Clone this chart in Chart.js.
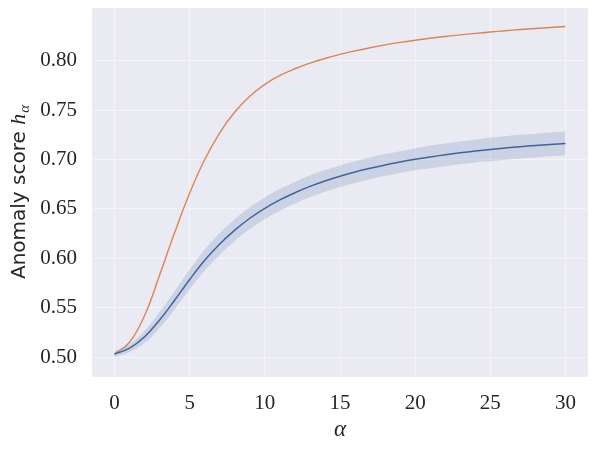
<!DOCTYPE html>
<html>
<head>
<meta charset="utf-8">
<script src="https://cdn.jsdelivr.net/npm/chart.js@4"></script>
<style>
  html, body { margin: 0; padding: 0; background: #fff; }
</style>
</head>
<body>
<canvas id="chart" width="596" height="450"></canvas>
<script>
// Data
const alphas = [0, 1, 2, 3, 4, 5, 6, 7, 8, 9, 10, 11, 12, 13, 14, 15, 16, 17, 18, 19, 20, 21, 22, 23, 24, 25, 26, 27, 28, 29, 30];
const orangeScores = [0.5030, 0.5150, 0.5420, 0.5830, 0.6260, 0.6660, 0.7000, 0.7270, 0.7480, 0.7640, 0.7760,
                      0.7850, 0.7918, 0.7975, 0.8022, 0.8063, 0.8099, 0.8131, 0.8160, 0.8185, 0.8207,
                      0.8227, 0.8245, 0.8261, 0.8276, 0.8290, 0.8303, 0.8315, 0.8326, 0.8336, 0.8345];
const blueScores = [0.5030, 0.5090, 0.5205, 0.5375, 0.5575, 0.5785, 0.5980, 0.6145, 0.6285, 0.6405, 0.6505,
                    0.6590, 0.6663, 0.6727, 0.6782, 0.6830, 0.6872, 0.6910, 0.6944, 0.6974, 0.7001,
                    0.7025, 0.7047, 0.7067, 0.7085, 0.7101, 0.7116, 0.7129, 0.7141, 0.7152, 0.7162];
const blueUpper = [0.5060, 0.5130, 0.5265, 0.5455, 0.5665, 0.5885, 0.6085, 0.6255, 0.6395, 0.6515, 0.6615,
                   0.6700, 0.6773, 0.6837, 0.6892, 0.6940, 0.6982, 0.7020, 0.7054, 0.7084, 0.7111,
                   0.7140, 0.7162, 0.7182, 0.7200, 0.7221, 0.7236, 0.7249, 0.7261, 0.7272, 0.7282];
const blueLower = [0.5000, 0.5050, 0.5145, 0.5295, 0.5485, 0.5685, 0.5875, 0.6035, 0.6175, 0.6295, 0.6395,
                   0.6480, 0.6553, 0.6617, 0.6672, 0.6720, 0.6762, 0.6800, 0.6834, 0.6864, 0.6891,
                   0.6910, 0.6932, 0.6952, 0.6970, 0.6981, 0.6996, 0.7009, 0.7021, 0.7032, 0.7042];
const xTicks = [0, 5, 10, 15, 20, 25, 30];
const yTicks = [0.50, 0.55, 0.60, 0.65, 0.70, 0.75, 0.80];

const colors = {
    background: '#EAEAF2',
    grid: 'rgba(255, 255, 255, 0.45)',
    text: '#262626',
    orange: '#DD8452',
    blue: '#3f5f96',
    band: 'rgba(76, 114, 176, 0.2)'
};

const toPoints = (ys) => ys.map((y, i) => ({ x: alphas[i], y: y }));

// Seaborn-like axes background
const backgroundPlugin = {
    id: 'plotBackground',
    beforeDraw(chart) {
        const { ctx, chartArea: a } = chart;
        ctx.save();
        ctx.fillStyle = colors.background;
        ctx.fillRect(a.left, a.top, a.right - a.left, a.bottom - a.top);
        ctx.restore();
    }
};

// Axis titles with math-style symbols
const titlesPlugin = {
    id: 'axisTitles',
    afterDraw(chart) {
        const { ctx, chartArea: a } = chart;
        ctx.save();
        ctx.fillStyle = colors.text;
        ctx.textBaseline = 'alphabetic';

        // x title: alpha
        ctx.font = 'italic 23px "Liberation Serif"';
        ctx.textAlign = 'center';
        ctx.fillText('\u03B1', (a.left + a.right) / 2, 436);

        // y title: Anomaly score h_alpha
        const main = 'Anomaly score ';
        const fMain = '20px "DejaVu Sans"';
        const fH = 'italic 22px "Liberation Serif"';
        const fSub = 'italic 15px "Liberation Serif"';
        ctx.font = fMain; const wMain = ctx.measureText(main).width;
        ctx.font = fH; const wH = ctx.measureText('h').width;
        ctx.font = fSub; const wSub = ctx.measureText('\u03B1').width;
        const total = wMain + wH + wSub;
        ctx.translate(25, (a.top + a.bottom) / 2);
        ctx.rotate(-Math.PI / 2);
        ctx.textAlign = 'left';
        let x = -total / 2;
        ctx.font = fMain; ctx.fillText(main, x, 0); x += wMain;
        ctx.font = fH; ctx.fillText('h', x, 0); x += wH;
        ctx.font = fSub; ctx.fillText('\u03B1', x + 1, 4);
        ctx.restore();
    }
};

const noPadding = (scale) => {
    scale.paddingTop = 0;
    scale.paddingBottom = 0;
    scale.paddingLeft = 0;
    scale.paddingRight = 0;
};

new Chart(document.getElementById('chart'), {
    type: 'line',
    data: {
        datasets: [
            {
                label: 'upper',
                data: toPoints(blueUpper),
                borderWidth: 0,
                pointRadius: 0,
                fill: false,
                tension: 0.4
            },
            {
                label: 'lower',
                data: toPoints(blueLower),
                borderWidth: 0,
                pointRadius: 0,
                backgroundColor: colors.band,
                fill: '-1',
                tension: 0.4
            },
            {
                label: 'blue',
                data: toPoints(blueScores),
                borderColor: colors.blue,
                borderWidth: 1.5,
                pointRadius: 0,
                fill: false,
                tension: 0.4
            },
            {
                label: 'orange',
                data: toPoints(orangeScores),
                borderColor: colors.orange,
                borderWidth: 1.4,
                pointRadius: 0,
                fill: false,
                tension: 0.4
            }
        ]
    },
    options: {
        responsive: false,
        animation: false,
        layout: { padding: { left: 0, right: 8, top: 8, bottom: 0 } },
        plugins: {
            legend: { display: false },
            tooltip: { enabled: false }
        },
        scales: {
            x: {
                type: 'linear',
                min: -1.5,
                max: 31.5,
                afterBuildTicks: (scale) => { scale.ticks = xTicks.map(v => ({ value: v })); },
                afterFit: (scale) => { scale.height = 73; noPadding(scale); },
                border: { display: false },
                grid: { color: colors.grid, lineWidth: 1, drawTicks: false },
                ticks: {
                    padding: 14,
                    color: colors.text,
                    font: { family: '"Liberation Serif"', size: 21 },
                    callback: (v) => String(v),
                    maxRotation: 0
                }
            },
            y: {
                min: 0.4798,
                max: 0.8533,
                afterBuildTicks: (scale) => { scale.ticks = yTicks.map(v => ({ value: v })); },
                afterFit: (scale) => { scale.width = 92; noPadding(scale); },
                border: { display: false },
                grid: { color: colors.grid, lineWidth: 1, drawTicks: false },
                ticks: {
                    padding: 15,
                    color: colors.text,
                    font: { family: '"Liberation Serif"', size: 21 },
                    callback: (v) => v.toFixed(2)
                }
            }
        }
    },
    plugins: [backgroundPlugin, titlesPlugin]
});
</script>
</body>
</html>
